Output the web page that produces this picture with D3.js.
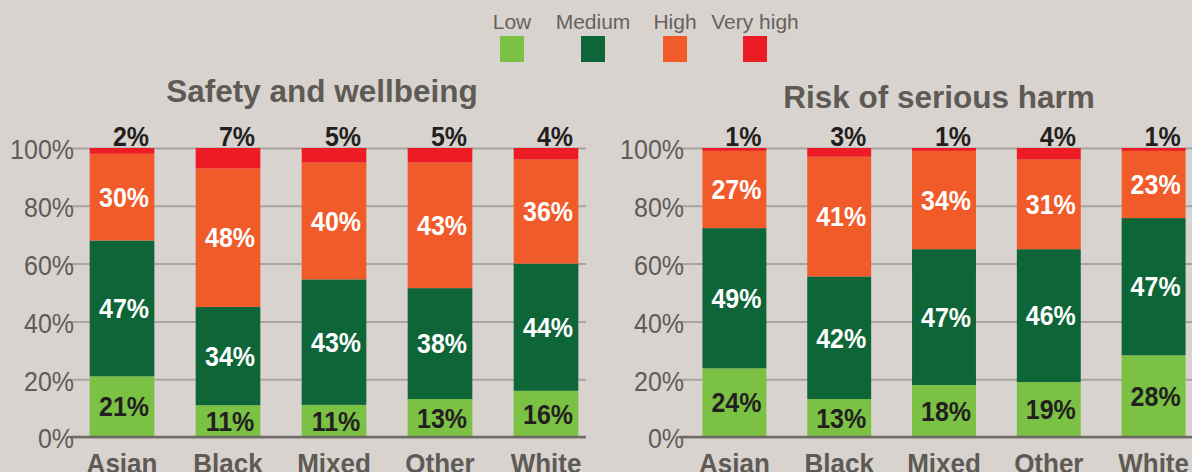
<!DOCTYPE html>
<html>
<head>
<meta charset="utf-8">
<script src="https://cdn.jsdelivr.net/npm/d3@7"></script>
<style>
  html, body { margin: 0; padding: 0; background: #d8d3ce; }
  svg { display: block; }
  text { font-family: "Liberation Sans", Arial, sans-serif; }
</style>
</head>
<body>
<svg id="chart" width="1192" height="472"></svg>
<script>
const categories = ["Asian", "Black", "Mixed", "Other", "White"];
const levels = ["Low", "Medium", "High", "Very high"];
const levelColors = ["#7bc143", "#0e6638", "#f15a29", "#ed1c24"];
const labelColors = ["#231f20", "#ffffff", "#ffffff", "#231f20"];

const safetyLow = [21, 11, 11, 13, 16];
const safetyMedium = [47, 34, 43, 38, 44];
const safetyHigh = [30, 48, 40, 43, 36];
const safetyVeryHigh = [2, 7, 5, 5, 4];

const riskLow = [24, 13, 18, 19, 28];
const riskMedium = [49, 42, 47, 46, 47];
const riskHigh = [27, 41, 34, 31, 23];
const riskVeryHigh = [1, 3, 1, 4, 1];

const tickValues = [0, 0.2, 0.4, 0.6, 0.8, 1];
const tickLabels = ["0%", "20%", "40%", "60%", "80%", "100%"];

const panels = [
  { title: "Safety and wellbeing", series: [safetyLow, safetyMedium, safetyHigh, safetyVeryHigh],
    xRange: [69, 599], grid: [70, 586], titleX: 322, titleY: 102 },
  { title: "Risk of serious harm", series: [riskLow, riskMedium, riskHigh, riskVeryHigh],
    xRange: [682, 1206], grid: [680, 1192], titleX: 939, titleY: 108 }
];

const svg = d3.select("#chart");
const y = d3.scaleLinear().domain([0, 1]).range([437, 148]);

// Legend
const legendX = d3.scalePoint().domain(levels).range([512, 755]);
const legend = svg.append("g");
levels.forEach((lv, i) => {
  const cx = [512, 593, 675, 755][i];
  legend.append("text").attr("x", cx).attr("y", 29).attr("text-anchor", "middle")
    .attr("font-size", 21).attr("fill", "#66625e").text(lv);
  legend.append("rect").attr("x", cx - 12).attr("y", 36).attr("width", 24).attr("height", 26)
    .attr("fill", levelColors[i]);
});

panels.forEach(p => {
  const g = svg.append("g");
  const x = d3.scaleBand().domain(categories).range(p.xRange).paddingInner(0.39).paddingOuter(0.195);

  // title
  g.append("text").attr("x", p.titleX).attr("y", p.titleY).attr("text-anchor", "middle")
    .attr("font-size", 31.5).attr("font-weight", "bold").attr("fill", "#5e5a56").text(p.title);

  // axis + gridlines
  const axis = d3.axisLeft(y).tickValues(tickValues)
    .tickFormat((d, i) => tickLabels[i])
    .tickSizeInner(-(p.grid[1] - p.grid[0])).tickSizeOuter(0).tickPadding(-4);
  const ag = g.append("g").attr("transform", `translate(${p.grid[0]},0)`).call(axis);
  ag.select(".domain").remove();
  ag.selectAll(".tick line").attr("stroke", "#a8a39e").attr("stroke-width", 2);
  ag.selectAll(".tick text").attr("font-size", 25).attr("fill", "#5f5b57")
    .attr("font-family", "Liberation Sans, Arial, sans-serif")
    .attr("dy", "0.4em").attr("transform", "scale(1,1.08)");

  // stacked data
  const rows = categories.map((c, ci) => {
    const o = { cat: c };
    levels.forEach((lv, li) => o[lv] = p.series[li][ci]);
    return o;
  });
  const stacked = d3.stack().keys(levels).offset(d3.stackOffsetExpand)(rows);

  stacked.forEach((layer, li) => {
    g.append("g").selectAll("rect").data(layer).join("rect")
      .attr("x", d => x(d.data.cat))
      .attr("width", x.bandwidth())
      .attr("y", d => y(d[1]))
      .attr("height", d => y(d[0]) - y(d[1]))
      .attr("fill", levelColors[li]);
  });

  // zero line
  g.append("line").attr("x1", p.grid[0]).attr("x2", p.grid[1])
    .attr("y1", y(0)).attr("y2", y(0)).attr("stroke", "#6e6a66").attr("stroke-width", 2.4);

  // labels
  stacked.forEach((layer, li) => {
    const top = li === 3;
    g.append("g").selectAll("text").data(layer).join("text")
      .attr("transform", d => {
        const cx = x(d.data.cat) + x.bandwidth() / 2 + (top ? 9 : 2);
        const cy = top ? 146 : (y(d[0]) + y(d[1])) / 2 + 9.8;
        return `translate(${cx},${cy}) scale(1,1.1)`;
      })
      .attr("text-anchor", "middle").attr("font-size", 25).attr("font-weight", "bold")
      .attr("fill", labelColors[li])
      .text(d => d.data[levels[li]] + "%");
  });

  // category labels
  g.append("g").selectAll("text").data(categories).join("text")
    .attr("transform", d => `translate(${x(d) + x.bandwidth() / 2},473) scale(1,1.08)`)
    .attr("text-anchor", "middle").attr("font-size", 26).attr("font-weight", "bold")
    .attr("fill", "#5e5a56").text(d => d);
});
</script>
</body>
</html>
